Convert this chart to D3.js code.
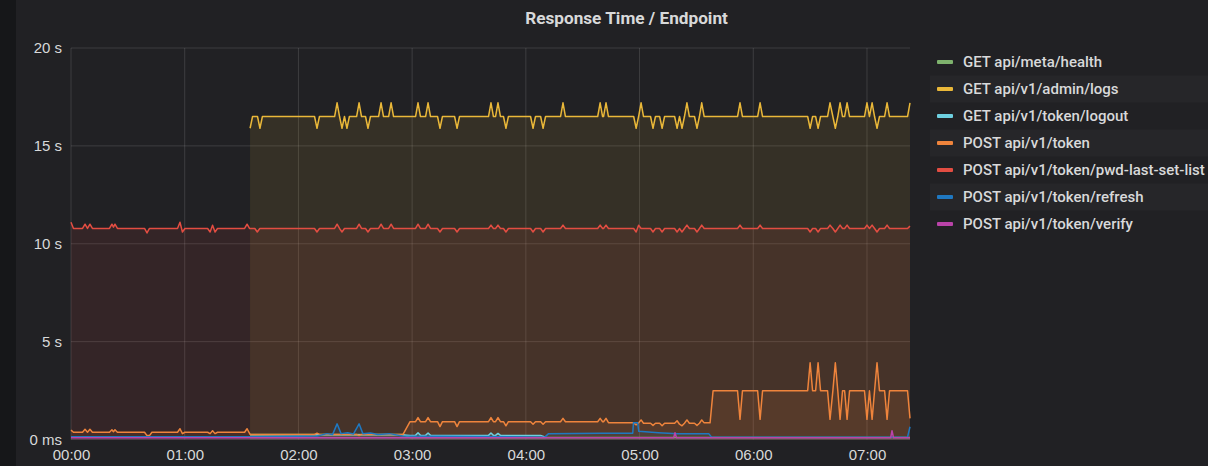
<!DOCTYPE html>
<html>
<head>
<meta charset="utf-8">
<script src="https://cdn.jsdelivr.net/npm/d3@7"></script>
<style>
  html, body { margin: 0; padding: 0; background: #161719; }
  svg { display: block; font-family: Roboto, "Helvetica Neue", Arial, sans-serif; }
  .axis text { fill: #d8d9da; font-size: 15px; font-weight: 500; }
  .axis path, .axis line { display: none; }
</style>
</head>
<body>
<div id="chart"></div>
<script>
// series: [minutes since 00:00, seconds]
const healthData = [[94.5, 0.25], [175.2, 0.25], [178.9, 0.1], [442.7, 0.1]];

const logsData = [
  [94.5, 15.9], [95.8, 16.5], [98.4, 16.5], [99.7, 15.9], [101, 16.5],
  [128.5, 16.5], [129.8, 15.9], [131.1, 16.5],
  [139.1, 16.5], [140.4, 17.2], [141.7, 16.5], [143, 15.9], [144.3, 16.5], [145.6, 15.9], [146.9, 16.5],
  [150.7, 16.5], [152, 17.2], [153.3, 16.5], [155.4, 16.5], [156.7, 15.9], [158, 16.5],
  [162.3, 16.5], [163.6, 17.2], [164.9, 16.5], [167.6, 16.5], [168.9, 17.2], [170.2, 16.5],
  [181.8, 16.5], [183.1, 17.2], [184.4, 16.5], [187.1, 16.5], [188.4, 17.2], [189.7, 16.5],
  [193.4, 16.5], [194.7, 15.9], [196, 16.5], [202.4, 16.5], [203.7, 15.9], [205, 16.5],
  [220.3, 16.5], [221.6, 17.2], [222.9, 16.5], [224, 16.5], [225.3, 17.2], [226.6, 16.5], [228.2, 16.5], [229.5, 15.9], [230.8, 16.5],
  [242.5, 16.5], [243.8, 15.9], [245.1, 16.5], [247.8, 16.5], [249.1, 15.9], [250.4, 16.5],
  [258.3, 16.5], [259.6, 17.2], [260.9, 16.5],
  [277.9, 16.5], [279.2, 17.2], [280.5, 16.5], [281, 16.5], [282.3, 17.2], [283.6, 16.5],
  [296.9, 16.5], [298.2, 15.9], [299.5, 16.5], [300.8, 17.2], [302.1, 16.5],
  [305.8, 16.5], [307.1, 15.9], [308.4, 16.5], [310.6, 16.5], [311.9, 15.9], [313.2, 16.5],
  [318.5, 16.5], [319.8, 15.9], [321.1, 16.5], [322.4, 15.9], [323.7, 16.5], [325, 17.2], [326.3, 16.5],
  [329, 16.5], [330.3, 15.9], [331.6, 16.5], [332.8, 17.2], [334.1, 16.5],
  [351.7, 16.5], [353, 17.2], [354.3, 16.5], [362.3, 16.5], [363.6, 17.2], [364.9, 16.5],
  [388.7, 16.5], [390, 15.9], [391.3, 16.5], [392.9, 16.5], [394.2, 15.9], [395.5, 16.5],
  [399.2, 16.5], [400.5, 17.2], [402, 16.5], [403.3, 15.9], [404.6, 16.5], [405.8, 17.2], [407.1, 16.5], [408.2, 16.5], [409.5, 17.2], [410.8, 16.5],
  [418.7, 16.5], [420, 17.2], [421.3, 16.5], [422.7, 17.2], [424, 16.5], [425.3, 15.9], [426.6, 16.5], [429.3, 16.5], [430.6, 17.2], [431.9, 16.5],
  [441.4, 16.5], [442.7, 17.2]
];

const logoutData = [
  [94.5, 0.24], [174, 0.24], [178.9, 0.21], [181.8, 0.21], [183.1, 0.34], [184.4, 0.21],
  [187.1, 0.21], [188.4, 0.33], [189.7, 0.21], [220.3, 0.21], [221.6, 0.33], [222.9, 0.21],
  [224, 0.21], [225.3, 0.31], [226.6, 0.21], [247.8, 0.21], [250.4, 0.12]
];

const tokenData = [
  [0, 0.48], [1.3, 0.37], [6.1, 0.37], [7.4, 0.52], [8.7, 0.37], [10, 0.52], [11.3, 0.37],
  [20.3, 0.37], [21.6, 0.5], [22.4, 0.4], [23.2, 0.5], [24.5, 0.37], [38.8, 0.37], [40.1, 0.2],
  [41.4, 0.2], [42.7, 0.37], [56.2, 0.37], [57.5, 0.55], [58.8, 0.3], [60.1, 0.37], [72.1, 0.37],
  [73.4, 0.3], [74.7, 0.45], [76, 0.3], [77.3, 0.37], [91.6, 0.37], [92.9, 0.55], [94.5, 0.26],
  [128.5, 0.26], [129.8, 0.32], [131.1, 0.26], [150.7, 0.26], [152, 0.2], [153.3, 0.26],
  [175.2, 0.26], [178.9, 0.91],
  [181.8, 0.91], [183.1, 1.12], [184.4, 0.91], [187.1, 0.91], [188.4, 1.12], [189.7, 0.91],
  [193.4, 0.91], [194.7, 0.66], [196, 0.91], [202.4, 0.91], [203.7, 0.66], [205, 0.91],
  [220.3, 0.91], [221.6, 1.12], [222.9, 0.91], [224, 0.91], [225.3, 1.12], [226.6, 0.91],
  [228.2, 0.91], [229.5, 0.7], [230.8, 0.91], [242.5, 0.91], [243.8, 0.78], [245.1, 0.91],
  [247.8, 0.91], [249.1, 0.78], [250.4, 0.91], [258.3, 0.91], [259.6, 1.08], [260.9, 0.91],
  [277.9, 0.91], [279.2, 1.08], [280.5, 0.91], [281, 0.91], [282.3, 1.08], [283.6, 0.86],
  [296.9, 0.85], [298.2, 0.75], [299.5, 0.85], [300.8, 1.0], [302.1, 0.83], [305.8, 0.83],
  [307.1, 0.72], [308.4, 0.83], [310.6, 0.83], [311.9, 0.7], [313.2, 0.83], [318.5, 0.83],
  [319.8, 0.96], [321.1, 0.78], [322.4, 0.7], [323.7, 0.83], [325, 1.0], [326.3, 0.83],
  [329, 0.83], [330.3, 0.72], [331.6, 0.83], [332.8, 1.0], [334.1, 0.85], [337.2, 0.85],
  [338.8, 2.49],
  [351.7, 2.49], [353, 1.03], [354.3, 2.49], [362.3, 2.49], [363.6, 1.03], [364.9, 2.49],
  [388.7, 2.49], [390, 3.92], [391.3, 2.49], [392.9, 2.49], [394.2, 3.92], [395.5, 2.49],
  [399.2, 2.49], [400.5, 1.03], [402, 2.49], [403.3, 3.92], [404.6, 2.49], [405.8, 1.03],
  [407.1, 2.49], [408.2, 2.49], [409.5, 1.03], [410.8, 2.49], [418.7, 2.49], [420, 1.03],
  [421.3, 2.49], [422.7, 1.03], [424, 2.49], [425.3, 3.92], [426.6, 2.49], [429.3, 2.49],
  [430.6, 1.03], [431.9, 2.49], [441.4, 2.49], [442.7, 1.08]
];

const pwdData = [
  [0, 11.1], [1.3, 10.78], [6.1, 10.78], [7.4, 11.0], [8.7, 10.78], [10, 11.0], [11.3, 10.78],
  [20.3, 10.78], [21.6, 11.0], [22.4, 10.85], [23.2, 11.0], [24.5, 10.78],
  [38.8, 10.78], [40.1, 10.55], [41.4, 10.78], [56.2, 10.78], [57.5, 11.1], [58.8, 10.6], [60.1, 10.78],
  [72.1, 10.78], [73.4, 10.6], [74.7, 10.95], [76, 10.6], [77.3, 10.78],
  [91.6, 10.78], [92.9, 11.0], [94.2, 10.78], [97, 10.78], [98.3, 10.6], [99.6, 10.78],
  [128.5, 10.78], [129.8, 10.6], [131.1, 10.78], [139.1, 10.78], [140.4, 11.0], [141.7, 10.78],
  [143, 10.6], [144.3, 10.78], [150.7, 10.78], [152, 11.0], [153.3, 10.78], [155.4, 10.78],
  [156.7, 10.6], [158, 10.78], [162.3, 10.78], [163.6, 11.0], [164.9, 10.78], [167.6, 10.78],
  [168.9, 11.0], [170.2, 10.78],
  [181.8, 10.78], [183.1, 11.0], [184.4, 10.78], [187.1, 10.78], [188.4, 11.0], [189.7, 10.78],
  [193.4, 10.78], [194.7, 10.6], [196, 10.78], [202.4, 10.78], [203.7, 10.6], [205, 10.78],
  [220.3, 10.78], [221.6, 10.95], [222.9, 10.78], [224, 10.78], [225.3, 10.95], [226.6, 10.78],
  [228.2, 10.78], [229.5, 10.6], [230.8, 10.78], [242.5, 10.78], [243.8, 10.6], [245.1, 10.78],
  [247.8, 10.78], [249.1, 10.6], [250.4, 10.78], [258.3, 10.78], [259.6, 10.95], [260.9, 10.78],
  [277.9, 10.78], [279.2, 10.95], [280.5, 10.78], [281, 10.78], [282.3, 10.95], [283.6, 10.78],
  [296.9, 10.78], [298.2, 10.6], [299.5, 10.95], [300.8, 10.78],
  [305.8, 10.78], [307.1, 10.6], [308.4, 10.78], [310.6, 10.78], [311.9, 10.6], [313.2, 10.78],
  [318.5, 10.78], [319.8, 10.6], [321.1, 10.78], [322.4, 10.6], [323.7, 10.78], [325, 10.95],
  [326.3, 10.78], [329, 10.78], [330.3, 10.6], [331.6, 10.78], [332.8, 10.95], [334.1, 10.78],
  [351.7, 10.78], [353, 10.95], [354.3, 10.78], [362.3, 10.78], [363.6, 10.95], [364.9, 10.78],
  [388.7, 10.78], [390, 10.6], [391.3, 10.78], [392.9, 10.78], [394.2, 10.6], [395.5, 10.78],
  [399.2, 10.78], [400.5, 10.95], [402, 10.78], [403.3, 10.6], [404.6, 10.78], [405.8, 10.95],
  [407.1, 10.78], [408.2, 10.78], [409.5, 10.95], [410.8, 10.78],
  [418.7, 10.78], [420, 10.95], [421.3, 10.78], [422.7, 10.95], [424, 10.78], [425.3, 10.6],
  [426.6, 10.78], [429.3, 10.78], [430.6, 10.95], [431.9, 10.78], [441.4, 10.78], [442.7, 10.9]
];

const refreshData = [
  [0, 0.14], [94.5, 0.14], [130, 0.18], [135, 0.3], [138, 0.25], [140.4, 0.8], [142.5, 0.3],
  [146, 0.35], [149, 0.28], [152, 0.8], [154, 0.3], [158, 0.33], [162, 0.25], [168, 0.3],
  [175, 0.18], [250, 0.12], [252, 0.3], [280, 0.32], [296.4, 0.32], [296.8, 0.86], [299, 0.86],
  [299.6, 0.42], [310, 0.35], [320, 0.3], [336.5, 0.3], [338, 0.12], [441.4, 0.12], [442.7, 0.65]
];

const verifyData = [
  [0, 0.09], [318, 0.09], [318.7, 0.35], [319.5, 0.09], [432.5, 0.09], [433.2, 0.45],
  [434, 0.09], [442.7, 0.09]
];

const seriesNames = [
  'GET api/meta/health',
  'GET api/v1/admin/logs',
  'GET api/v1/token/logout',
  'POST api/v1/token',
  'POST api/v1/token/pwd-last-set-list',
  'POST api/v1/token/refresh',
  'POST api/v1/token/verify',
];
const seriesColors = ['#7EB26D', '#EAB839', '#6ED0E0', '#EF843C', '#E24D42', '#1F78C1', '#BA43A9'];

const xTickValues = [0, 60, 120, 180, 240, 300, 360, 420];
const xTickLabels = ['00:00', '01:00', '02:00', '03:00', '04:00', '05:00', '06:00', '07:00'];
const yTickValues = [0, 5, 10, 15, 20];
const yTickLabels = ['0 ms', '5 s', '10 s', '15 s', '20 s'];

const seriesData = [healthData, logsData, logoutData, tokenData, pwdData, refreshData, verifyData];
const series = seriesNames.map((name, i) => ({ name, color: seriesColors[i], values: seriesData[i] }));

const W = 1208;
const H = 466;
const margin = { top: 48, right: 298, bottom: 26.5, left: 71 };
const width = W - margin.left - margin.right;
const height = H - margin.top - margin.bottom;

const svg = d3.select('#chart').append('svg')
    .attr('width', W)
    .attr('height', H);

// panel
svg.append('rect')
    .attr('x', 16)
    .attr('y', 0)
    .attr('width', W - 16)
    .attr('height', H)
    .attr('fill', '#212124');

svg.append('text')
    .attr('x', 626.5)
    .attr('y', 24)
    .attr('text-anchor', 'middle')
    .attr('fill', '#d8d9da')
    .style('font-size', '17.2px')
    .style('font-weight', 'bold')
    .text('Response Time / Endpoint');

const xScale = d3.scaleLinear()
    .domain([0, 442.7])
    .range([0, width]);

const yScale = d3.scaleLinear()
    .domain([0, 20])
    .range([height, 0]);

const g = svg.append('g')
    .attr('transform', `translate(${margin.left}, ${margin.top})`);

// grid
g.selectAll('.hgrid')
    .data(yTickValues)
  .enter().append('line')
    .attr('class', 'hgrid')
    .attr('x1', 0)
    .attr('x2', width)
    .attr('y1', d => yScale(d))
    .attr('y2', d => yScale(d))
    .attr('stroke', 'rgba(255,255,255,0.13)');

g.selectAll('.vgrid')
    .data(xTickValues)
  .enter().append('line')
    .attr('class', 'vgrid')
    .attr('x1', d => xScale(d))
    .attr('x2', d => xScale(d))
    .attr('y1', 0)
    .attr('y2', height)
    .attr('stroke', 'rgba(255,255,255,0.13)');

const area = d3.area()
    .x(d => xScale(d[0]))
    .y0(yScale(0))
    .y1(d => yScale(d[1]));

const line = d3.line()
    .x(d => xScale(d[0]))
    .y(d => yScale(d[1]));

g.selectAll('.fill')
    .data(series)
  .enter().append('path')
    .attr('class', 'fill')
    .attr('d', d => area(d.values))
    .attr('fill', d => d.color)
    .attr('fill-opacity', 0.1);

g.selectAll('.series')
    .data(series)
  .enter().append('path')
    .attr('class', 'series')
    .attr('d', d => line(d.values))
    .attr('fill', 'none')
    .attr('stroke', d => d.color)
    .attr('stroke-width', 1.5)
    .attr('stroke-linejoin', 'round');

// axes
const yAxis = d3.axisLeft(yScale)
    .tickValues(yTickValues)
    .tickFormat((d, i) => yTickLabels[i])
    .tickSize(0)
    .tickPadding(9);

const xAxis = d3.axisBottom(xScale)
    .tickValues(xTickValues)
    .tickFormat((d, i) => xTickLabels[i])
    .tickSize(0)
    .tickPadding(10);

g.append('g')
    .attr('class', 'y axis')
    .call(yAxis);

g.append('g')
    .attr('class', 'x axis')
    .attr('transform', `translate(0, ${height})`)
    .call(xAxis);

// legend
const legend = svg.append('g')
    .attr('class', 'legend')
    .attr('transform', 'translate(930, 62)');

const rowH = 27;

const item = legend.selectAll('.item')
    .data(series)
  .enter().append('g')
    .attr('class', 'item')
    .attr('transform', (d, i) => `translate(0, ${i * rowH})`);

item.filter((d, i) => i % 2 === 1)
  .append('rect')
    .attr('x', 0)
    .attr('y', -rowH / 2)
    .attr('width', W - 930)
    .attr('height', rowH)
    .attr('fill', 'rgba(255,255,255,0.025)');

item.append('rect')
    .attr('x', 7)
    .attr('y', -2)
    .attr('width', 16)
    .attr('height', 4)
    .attr('rx', 1)
    .attr('fill', d => d.color);

item.append('text')
    .attr('x', 33)
    .attr('y', 0)
    .attr('dy', '0.35em')
    .attr('fill', '#d8d9da')
    .style('font-size', '15px')
    .style('font-weight', 500)
    .text(d => d.name);
</script>
</body>
</html>
